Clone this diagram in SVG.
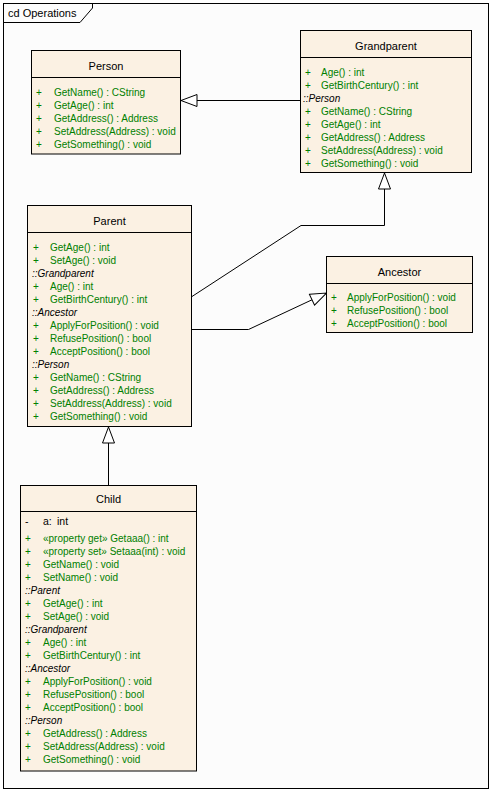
<svg xmlns="http://www.w3.org/2000/svg" width="493" height="792" viewBox="0 0 493 792">
<style>
text{font-family:"Liberation Sans",Arial,sans-serif;}
.box{fill:#FBF1E3;stroke:#000;stroke-width:1;}
.sep{stroke:#000;stroke-width:1;}
.title{font-size:11px;fill:#000;text-anchor:middle;font-weight:normal;}
.op{font-size:10px;fill:#008000;}
.grp{font-size:10px;fill:#000;font-style:italic;}
.attr{font-size:10.5px;fill:#000;}
.conn{fill:none;stroke:#000;stroke-width:1;marker-end:url(#gen);}
</style>
<defs>
<marker id="gen" markerUnits="userSpaceOnUse" markerWidth="18" markerHeight="14" refX="16" refY="6" orient="auto" overflow="visible">
<path d="M0,0 L16,6 L0,12 Z" fill="#FFFFFF" stroke="#000" stroke-width="1"/>
</marker>
</defs>
<rect x="0" y="0" width="493" height="792" fill="#FFFFFF"/>
<g id="frame">
<rect x="3.5" y="3.5" width="485" height="785" fill="#FCFCFC" stroke="#000"/>
<path d="M3.5,22.5 H80 L92.5,8 V3.5" fill="none" stroke="#000"/>
<text x="8" y="16.5" style="font-size:11px;fill:#000">cd Operations</text>
</g>
<g id="connectors">
<path class="conn" d="M300.5,100.5 H181"/>
<path class="conn" d="M192,296.5 L301,225.5 H384.5 V173"/>
<path class="conn" d="M192,329.5 H248.5 L326.5,293"/>
<path class="conn" d="M108.5,485.5 V427"/>
</g>
<g id="Person">
<rect class="box" x="31.5" y="50.5" width="149" height="103.5"/>
<line class="sep" x1="31.5" y1="77.5" x2="180.5" y2="77.5"/>
<text class="title" x="106" y="69.5">Person</text>
<text class="op" x="36" y="95.5">+</text><text class="op" x="54" y="95.5">GetName() : CString</text>
<text class="op" x="36" y="108.5">+</text><text class="op" x="54" y="108.5">GetAge() : int</text>
<text class="op" x="36" y="121.5">+</text><text class="op" x="54" y="121.5">GetAddress() : Address</text>
<text class="op" x="36" y="134.5">+</text><text class="op" x="54" y="134.5">SetAddress(Address) : void</text>
<text class="op" x="36" y="147.5">+</text><text class="op" x="54" y="147.5">GetSomething() : void</text>
</g>
<g id="Grandparent">
<rect class="box" x="300.5" y="30.5" width="171" height="142"/>
<line class="sep" x1="300.5" y1="57.5" x2="471.5" y2="57.5"/>
<text class="title" x="386" y="49.5">Grandparent</text>
<text class="op" x="305" y="75.5">+</text><text class="op" x="321" y="75.5">Age() : int</text>
<text class="op" x="305" y="88.5">+</text><text class="op" x="321" y="88.5">GetBirthCentury() : int</text>
<text class="grp" x="303" y="101.5">::Person</text>
<text class="op" x="305" y="114.5">+</text><text class="op" x="321" y="114.5">GetName() : CString</text>
<text class="op" x="305" y="127.5">+</text><text class="op" x="321" y="127.5">GetAge() : int</text>
<text class="op" x="305" y="140.5">+</text><text class="op" x="321" y="140.5">GetAddress() : Address</text>
<text class="op" x="305" y="153.5">+</text><text class="op" x="321" y="153.5">SetAddress(Address) : void</text>
<text class="op" x="305" y="166.5">+</text><text class="op" x="321" y="166.5">GetSomething() : void</text>
</g>
<g id="Parent">
<rect class="box" x="27.5" y="205.5" width="164" height="221"/>
<line class="sep" x1="27.5" y1="232.5" x2="191.5" y2="232.5"/>
<text class="title" x="109.5" y="224.5">Parent</text>
<text class="op" x="33" y="250.5">+</text><text class="op" x="50" y="250.5">GetAge() : int</text>
<text class="op" x="33" y="263.5">+</text><text class="op" x="50" y="263.5">SetAge() : void</text>
<text class="grp" x="32" y="276.5">::Grandparent</text>
<text class="op" x="33" y="289.5">+</text><text class="op" x="50" y="289.5">Age() : int</text>
<text class="op" x="33" y="302.5">+</text><text class="op" x="50" y="302.5">GetBirthCentury() : int</text>
<text class="grp" x="32" y="315.5">::Ancestor</text>
<text class="op" x="33" y="328.5">+</text><text class="op" x="50" y="328.5">ApplyForPosition() : void</text>
<text class="op" x="33" y="341.5">+</text><text class="op" x="50" y="341.5">RefusePosition() : bool</text>
<text class="op" x="33" y="354.5">+</text><text class="op" x="50" y="354.5">AcceptPosition() : bool</text>
<text class="grp" x="32" y="367.5">::Person</text>
<text class="op" x="33" y="380.5">+</text><text class="op" x="50" y="380.5">GetName() : CString</text>
<text class="op" x="33" y="393.5">+</text><text class="op" x="50" y="393.5">GetAddress() : Address</text>
<text class="op" x="33" y="406.5">+</text><text class="op" x="50" y="406.5">SetAddress(Address) : void</text>
<text class="op" x="33" y="419.5">+</text><text class="op" x="50" y="419.5">GetSomething() : void</text>
</g>
<g id="Ancestor">
<rect class="box" x="326.5" y="256.5" width="146" height="76"/>
<line class="sep" x1="326.5" y1="283.5" x2="472.5" y2="283.5"/>
<text class="title" x="399.5" y="275.5">Ancestor</text>
<text class="op" x="331" y="301">+</text><text class="op" x="347" y="301">ApplyForPosition() : void</text>
<text class="op" x="331" y="314">+</text><text class="op" x="347" y="314">RefusePosition() : bool</text>
<text class="op" x="331" y="327">+</text><text class="op" x="347" y="327">AcceptPosition() : bool</text>
</g>
<g id="Child">
<rect class="box" x="20.5" y="485.5" width="176" height="285.5"/>
<line class="sep" x1="20.5" y1="511.5" x2="196.5" y2="511.5"/>
<text class="title" x="108.5" y="503">Child</text>
<text class="attr" x="25" y="525">-</text><text class="attr" x="43" y="525">a:</text><text class="attr" x="57" y="525">int</text>
<text class="op" x="25" y="542">+</text><text class="op" x="43" y="542">«property get» Getaaa() : int</text>
<text class="op" x="25" y="555">+</text><text class="op" x="43" y="555">«property set» Setaaa(int) : void</text>
<text class="op" x="25" y="568">+</text><text class="op" x="43" y="568">GetName() : void</text>
<text class="op" x="25" y="581">+</text><text class="op" x="43" y="581">SetName() : void</text>
<text class="grp" x="25" y="594">::Parent</text>
<text class="op" x="25" y="607">+</text><text class="op" x="43" y="607">GetAge() : int</text>
<text class="op" x="25" y="620">+</text><text class="op" x="43" y="620">SetAge() : void</text>
<text class="grp" x="25" y="633">::Grandparent</text>
<text class="op" x="25" y="646">+</text><text class="op" x="43" y="646">Age() : int</text>
<text class="op" x="25" y="659">+</text><text class="op" x="43" y="659">GetBirthCentury() : int</text>
<text class="grp" x="25" y="672">::Ancestor</text>
<text class="op" x="25" y="685">+</text><text class="op" x="43" y="685">ApplyForPosition() : void</text>
<text class="op" x="25" y="698">+</text><text class="op" x="43" y="698">RefusePosition() : bool</text>
<text class="op" x="25" y="711">+</text><text class="op" x="43" y="711">AcceptPosition() : bool</text>
<text class="grp" x="25" y="724">::Person</text>
<text class="op" x="25" y="737">+</text><text class="op" x="43" y="737">GetAddress() : Address</text>
<text class="op" x="25" y="750">+</text><text class="op" x="43" y="750">SetAddress(Address) : void</text>
<text class="op" x="25" y="763">+</text><text class="op" x="43" y="763">GetSomething() : void</text>
</g>
</svg>
